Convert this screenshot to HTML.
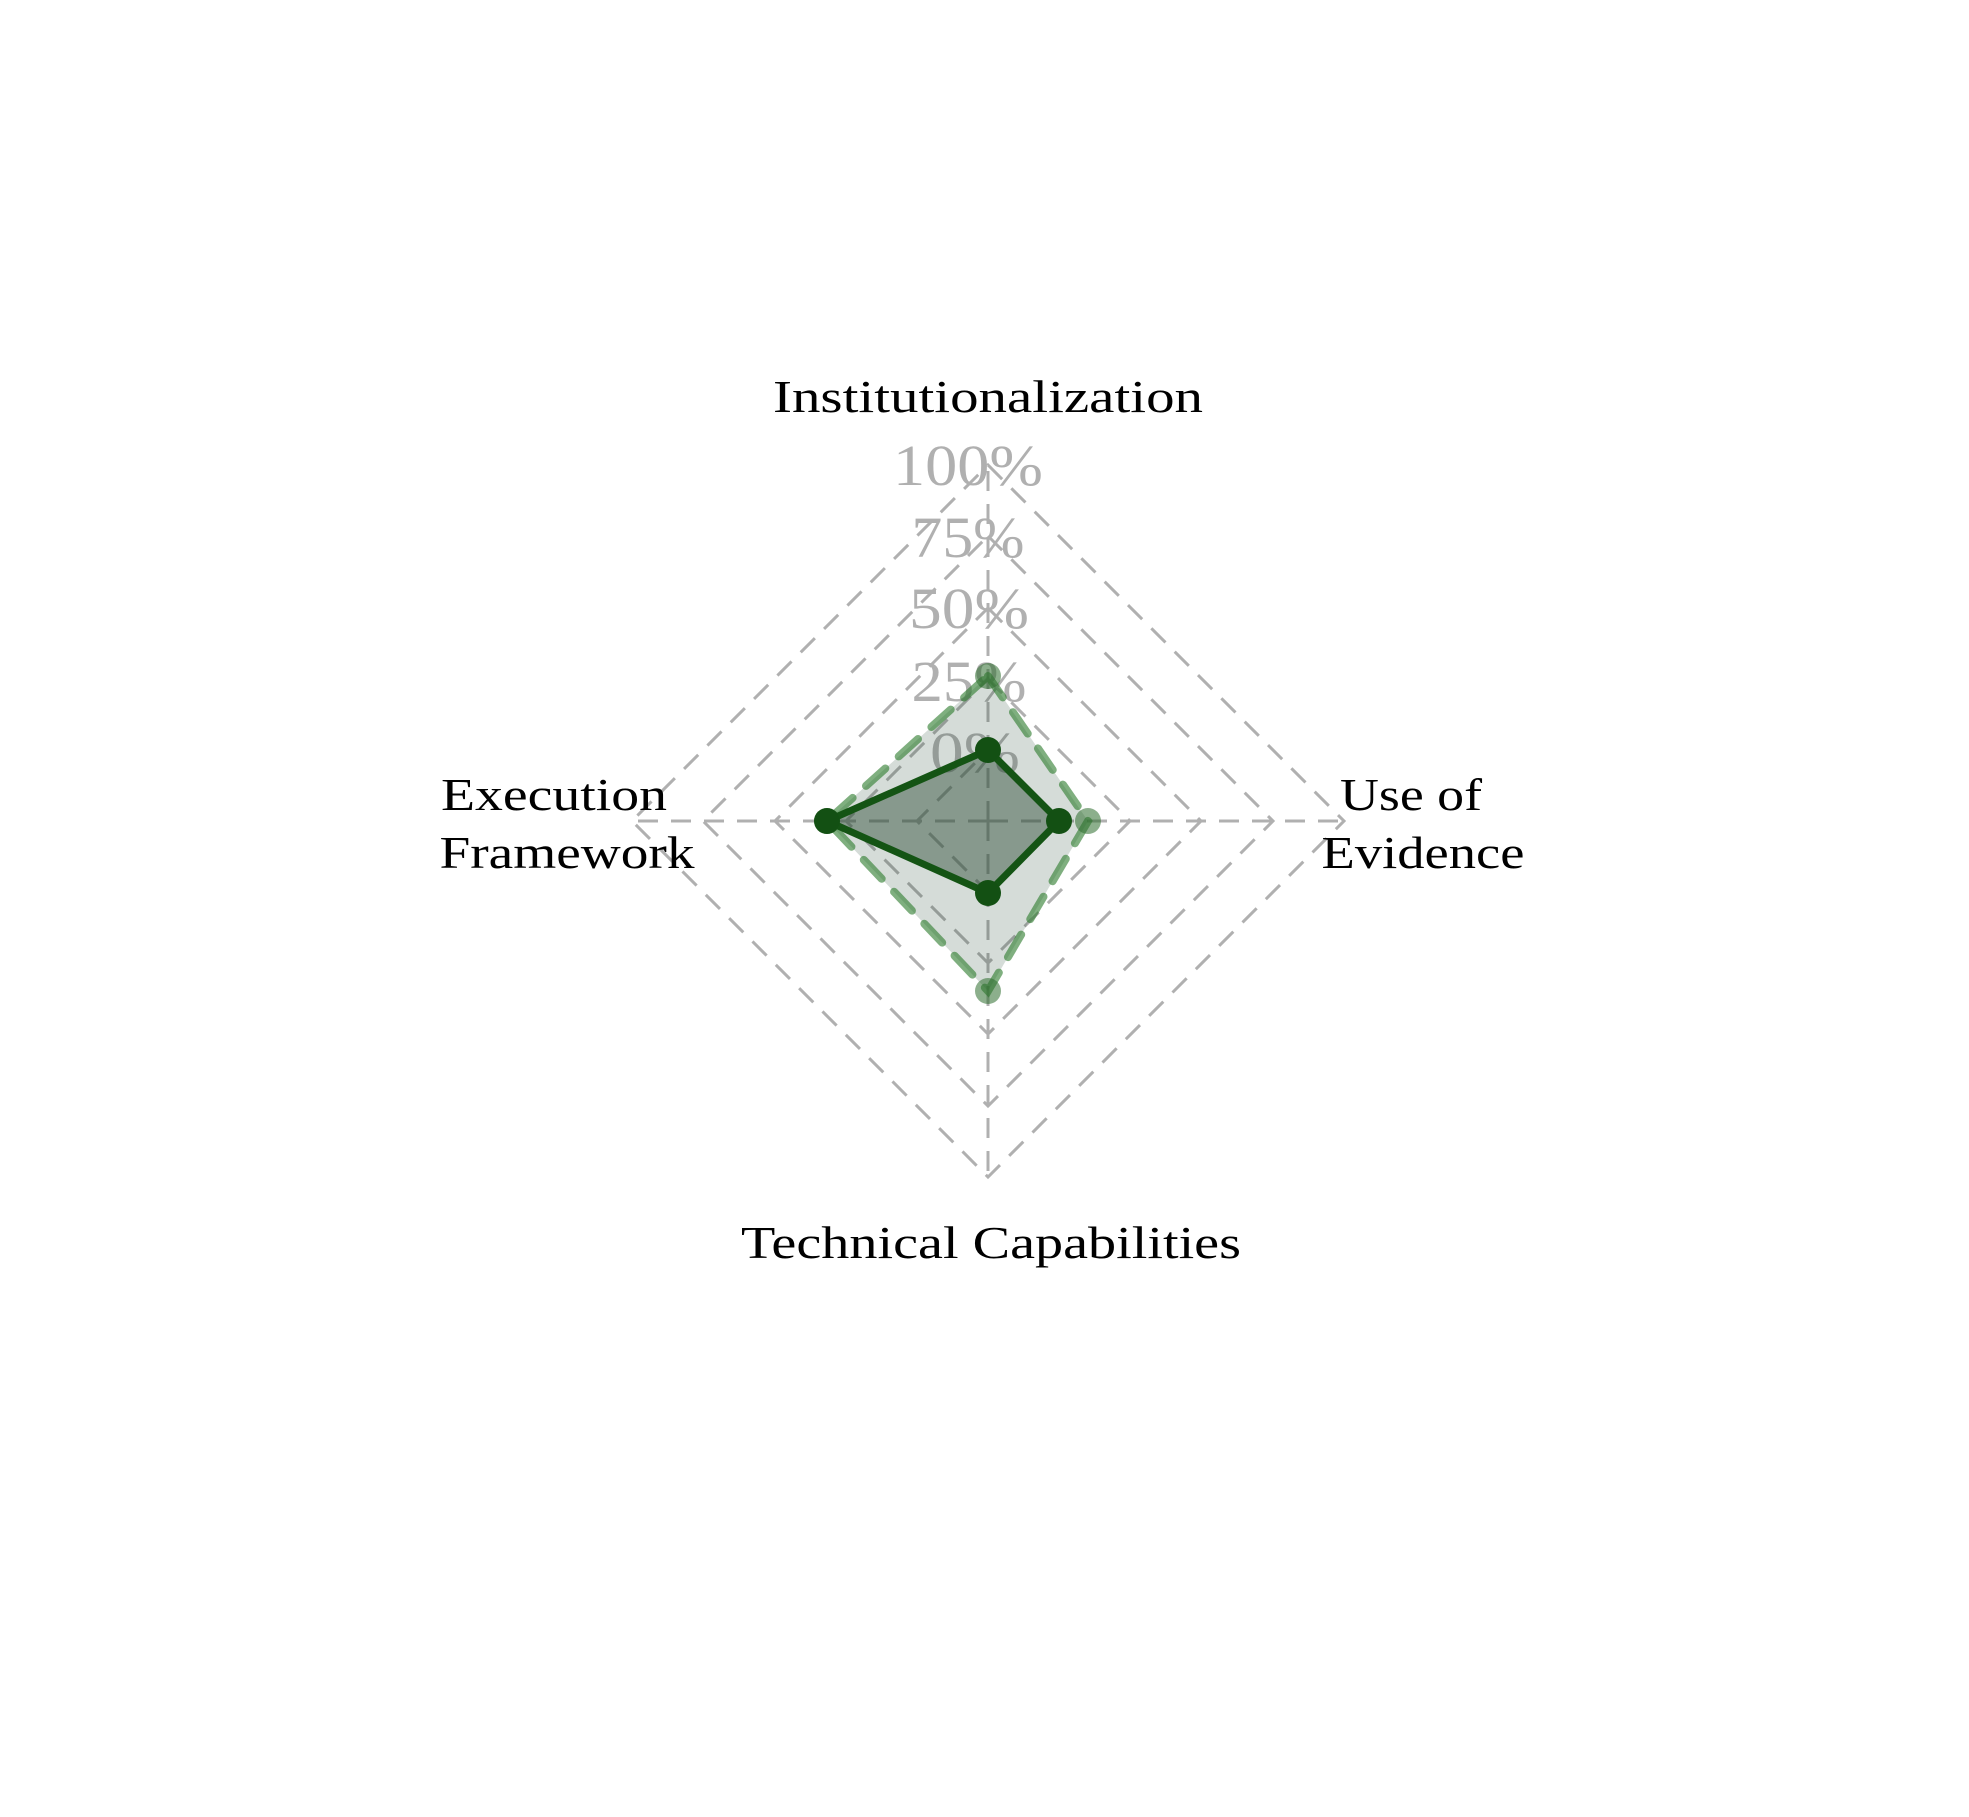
<!DOCTYPE html>
<html><head><meta charset="utf-8"><style>html,body{margin:0;padding:0;background:#fff}svg{display:block}</style></head>
<body>
<svg width="1969" height="1817" viewBox="0 0 1969 1817" xmlns="http://www.w3.org/2000/svg" font-family="'Liberation Serif', serif">
<rect width="1969" height="1817" fill="#fff"/>
<g fill="none" stroke="#b0b0b0" stroke-width="3" stroke-dasharray="20,13">
  <polygon points="988,750 1059,821 988,892 917,821"/>
  <polygon points="988,679 1130,821 988,963 846,821"/>
  <polygon points="988,608 1201,821 988,1034 775,821"/>
  <polygon points="988,536 1273,821 988,1106 703,821"/>
  <polygon points="988,465 1344,821 988,1177 632,821"/>
  <line x1="988" y1="821" x2="988" y2="465"/>
  <line x1="988" y1="821" x2="1344" y2="821"/>
  <line x1="988" y1="821" x2="988" y2="1177"/>
  <line x1="988" y1="821" x2="632" y2="821"/>
</g>
<g fill="#b0b0b0" font-size="58" text-anchor="middle">
  <text x="968" y="485" textLength="150" lengthAdjust="spacingAndGlyphs">100%</text>
  <text x="968" y="557" textLength="113" lengthAdjust="spacingAndGlyphs">75%</text>
  <text x="969" y="628" textLength="120" lengthAdjust="spacingAndGlyphs">50%</text>
  <text x="969" y="701" textLength="115" lengthAdjust="spacingAndGlyphs">25%</text>
  <text x="975" y="772" textLength="90" lengthAdjust="spacingAndGlyphs">0%</text>
</g>
<polygon points="988,676 1088,821 988,991 827,821" fill="#2f4f3a" fill-opacity="0.2" stroke="#2a7a2a" stroke-opacity="0.6" stroke-width="8" stroke-dasharray="26,18" stroke-linecap="round"/>
<polygon points="988,750 1059,821 988,893 827,821" fill="#2f4f3a" fill-opacity="0.47" stroke="#145414" stroke-width="7" stroke-linejoin="round"/>
<g fill="#2e6e2e" fill-opacity="0.55">
  <circle cx="988" cy="676" r="13"/><circle cx="1088" cy="821" r="13"/><circle cx="988" cy="991" r="13"/><circle cx="827" cy="821" r="13"/>
</g>
<g fill="#135013">
  <circle cx="988" cy="750" r="13"/><circle cx="1059" cy="821" r="13"/><circle cx="988" cy="893" r="13"/><circle cx="827" cy="821" r="13"/>
</g>
<g fill="#000" font-size="46">
  <text x="988" y="412" text-anchor="middle" textLength="430" lengthAdjust="spacingAndGlyphs">Institutionalization</text>
  <text x="554" y="810" text-anchor="middle" textLength="226" lengthAdjust="spacingAndGlyphs">Execution</text>
  <text x="567" y="868" text-anchor="middle" textLength="255" lengthAdjust="spacingAndGlyphs">Framework</text>
  <text x="1411" y="810" text-anchor="middle" textLength="142" lengthAdjust="spacingAndGlyphs">Use of</text>
  <text x="1423" y="868" text-anchor="middle" textLength="203" lengthAdjust="spacingAndGlyphs">Evidence</text>
  <text x="991" y="1258" text-anchor="middle" textLength="500" lengthAdjust="spacingAndGlyphs">Technical Capabilities</text>
</g>
</svg>
</body></html>
